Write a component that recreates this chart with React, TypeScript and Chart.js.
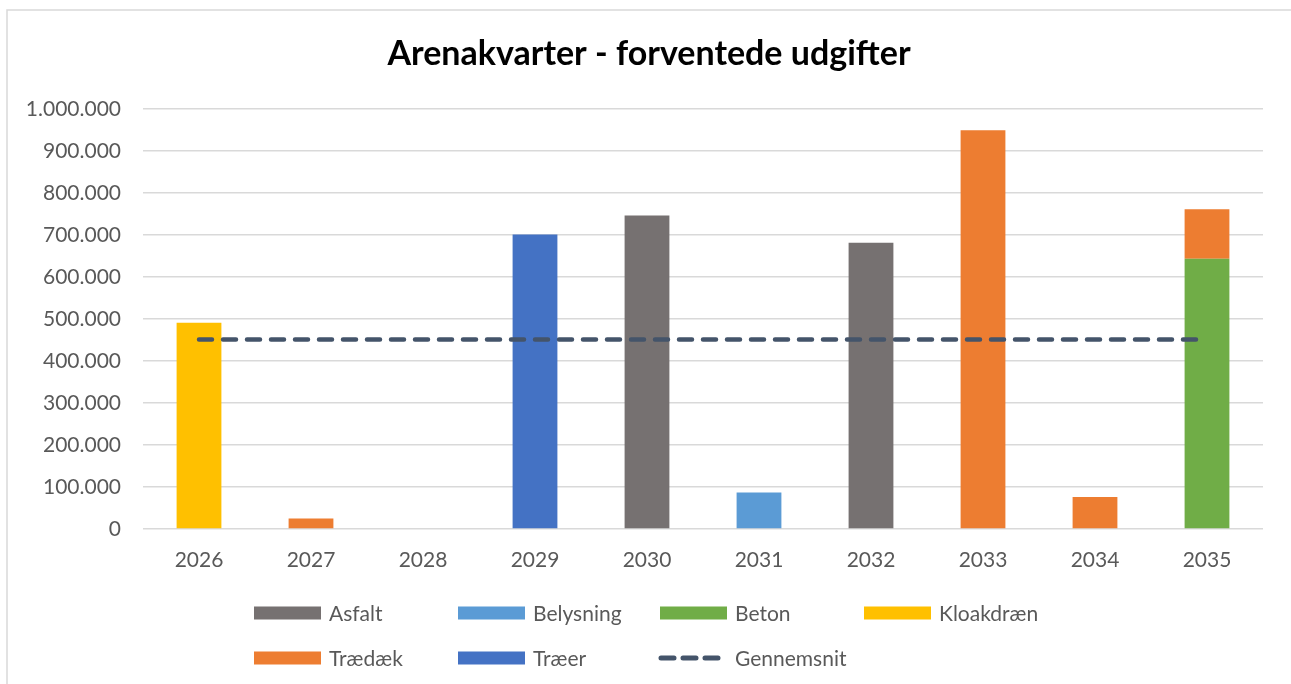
import React, { useEffect, useRef } from "react";
import { Chart, registerables } from "chart.js";

Chart.register(...registerables);

const years = ["2026", "2027", "2028", "2029", "2030", "2031", "2032", "2033", "2034", "2035"];
const asfalt = [null, null, null, null, 746000, null, 681000, null, null, null];
const belysning = [null, null, null, null, null, 87000, null, null, null, null];
const beton = [null, null, null, null, null, null, null, null, null, 643000];
const kloakdraen = [491000, null, null, null, null, null, null, null, null, null];
const traedaek = [null, 25000, null, null, null, null, null, 949000, 76000, 118000];
const traeer = [null, null, null, 701000, null, null, null, null, null, null];
const gennemsnit = [450800, 450800, 450800, 450800, 450800, 450800, 450800, 450800, 450800, 450800];
const yTicks = [0, 100000, 200000, 300000, 400000, 500000, 600000, 700000, 800000, 900000, 1000000];

const FONT = "Lato, 'Noto Sans', sans-serif";
const TEXT = "#595959";

function fmt(v: number): string {
  return String(Math.round(v)).replace(/\B(?=(\d{3})+(?!\d))/g, ".");
}

const framePlugin = {
  id: "frame",
  beforeDraw(chart: any) {
    const ctx = chart.ctx;
    ctx.save();
    ctx.fillStyle = "#ffffff";
    ctx.fillRect(0, 0, chart.width, chart.height);
    ctx.strokeStyle = "#D9D9D9";
    ctx.lineWidth = 1.5;
    ctx.beginPath();
    ctx.moveTo(7, chart.height + 2);
    ctx.lineTo(7, 10);
    ctx.lineTo(chart.width + 2, 10);
    ctx.stroke();
    ctx.restore();
  },
};

const gridLegendPlugin = {
  id: "gridLegend",
  afterDraw(chart: any) {
    const ctx = chart.ctx;
    const cols = [254, 458, 660, 864];
    const rows = [613, 658];
    const boxW = 67;
    const boxH = 13;
    ctx.save();
    ctx.font = `21px ${FONT}`;
    ctx.textBaseline = "middle";
    ctx.textAlign = "left";
    chart.data.datasets.forEach((ds: any, i: number) => {
      const x = cols[i % 4];
      const y = rows[Math.floor(i / 4)];
      if (ds.type === "line") {
        ctx.strokeStyle = ds.borderColor;
        ctx.lineWidth = 5;
        ctx.lineCap = "round";
        ctx.setLineDash([13, 9]);
        ctx.beginPath();
        ctx.moveTo(x + 1, y);
        ctx.lineTo(x + boxW - 2, y);
        ctx.stroke();
        ctx.setLineDash([]);
      } else {
        ctx.fillStyle = ds.backgroundColor;
        ctx.fillRect(x, y - boxH / 2, boxW, boxH);
      }
      ctx.fillStyle = TEXT;
      ctx.fillText(ds.label, x + boxW + 8, y + 1);
    });
    ctx.restore();
  },
};

export default function App() {
  const ref = useRef<HTMLCanvasElement | null>(null);
  useEffect(() => {
    if (!ref.current) return;
    const bar = (label: string, data: (number | null)[], color: string) => ({
      type: "bar" as const,
      label,
      data,
      backgroundColor: color,
      borderWidth: 0,
      categoryPercentage: 1,
      barPercentage: 0.4,
      order: 1,
      stack: "s",
    });
    const chart = new Chart(ref.current, {
      type: "bar",
      data: {
        labels: years,
        datasets: [
          bar("Asfalt", asfalt, "#767171"),
          bar("Belysning", belysning, "#5B9BD5"),
          bar("Beton", beton, "#70AD47"),
          bar("Kloakdræn", kloakdraen, "#FFC000"),
          bar("Trædæk", traedaek, "#ED7D31"),
          bar("Træer", traeer, "#4472C4"),
          {
            type: "line" as const,
            label: "Gennemsnit",
            data: gennemsnit,
            borderColor: "#44546A",
            backgroundColor: "#44546A",
            borderWidth: 4.5,
            borderDash: [13, 11],
            borderCapStyle: "round",
            pointRadius: 0,
            fill: false,
            order: 0,
            stack: "avg",
          } as any,
        ],
      },
      options: {
        animation: false,
        responsive: true,
        maintainAspectRatio: false,
        layout: { padding: { left: 7, right: 0, top: 0, bottom: 105 } },
        plugins: {
          legend: { display: false },
          tooltip: { enabled: false },
          title: {
            display: true,
            text: "Arenakvarter - forventede udgifter",
            color: "#000000",
            font: { family: FONT, size: 34, weight: "bold", lineHeight: 1.2 },
            padding: { top: 34, bottom: 34 },
          },
        },
        scales: {
          x: {
            stacked: true,
            grid: { display: false, drawTicks: false },
            border: { display: false },
            ticks: { color: TEXT, font: { family: FONT, size: 21 }, padding: 19 },
            afterFit: (s: any) => {
              s.height = 50;
            },
          },
          y: {
            stacked: true,
            min: 0,
            max: 1000000,
            afterBuildTicks: (s: any) => {
              s.ticks = yTicks.map((v) => ({ value: v }));
            },
            grid: { color: "#D9D9D9", lineWidth: 1.5, drawTicks: false },
            border: { display: false },
            ticks: {
              color: TEXT,
              font: { family: FONT, size: 21 },
              padding: 22,
              callback: (v: any) => fmt(Number(v)),
            },
            afterFit: (s: any) => {
              s.width = 136;
            },
          },
          yRight: {
            type: "linear",
            position: "right",
            display: true,
            grid: { display: false, drawTicks: false },
            border: { display: false },
            ticks: { display: false },
            afterFit: (s: any) => {
              s.width = 28;
            },
          },
        },
      },
      plugins: [framePlugin, gridLegendPlugin],
    });
    return () => chart.destroy();
  }, []);
  return (
    <div style={{ position: "fixed", left: 0, top: 0, width: 1291, height: 684 }}>
      <canvas ref={ref} />
    </div>
  );
}
